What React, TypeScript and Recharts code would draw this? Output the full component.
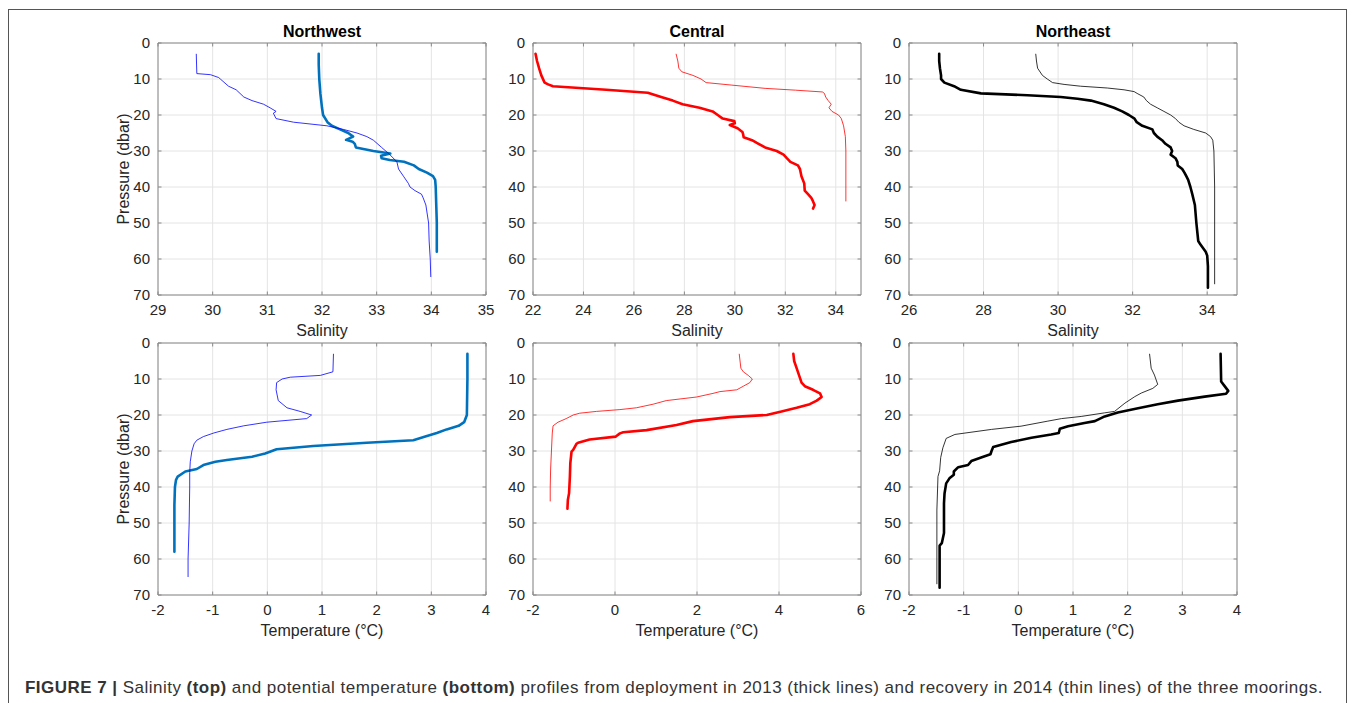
import React from 'react';
import { LineChart, Line, XAxis, YAxis, CartesianGrid, ReferenceArea } from 'recharts';

// ---------- Data (pressure in dbar, salinity, potential temperature °C) ----------
const PRESSURE_TICKS = [0, 10, 20, 30, 40, 50, 60, 70];

// Northwest salinity
const NW_SAL_2013_P = [3, 6, 10, 14, 18, 20, 22, 23, 24, 25, 26, 26.9, 27.4, 28, 29, 30, 30.7, 31.3, 32, 32.5, 33, 34, 35, 36, 37, 38, 40, 45, 50, 58];
const NW_SAL_2013 = [31.94, 31.94, 31.95, 31.97, 32.0, 32.02, 32.1, 32.18, 32.33, 32.48, 32.57, 32.44, 32.56, 32.6, 32.62, 32.94, 33.25, 33.08, 33.09, 33.24, 33.5, 33.68, 33.77, 33.92, 34.03, 34.07, 34.08, 34.09, 34.1, 34.1];
const NW_SAL_2014_P = [3, 8.5, 8.8, 9.6, 10, 12, 13, 14, 15, 16, 17, 18, 19, 19.5, 21, 22, 23, 24, 25, 26, 27, 29, 31, 33, 35, 37, 39, 40, 41, 42, 43, 45, 50, 55, 60, 65];
const NW_SAL_2014 = [29.7, 29.71, 29.96, 30.11, 30.14, 30.29, 30.43, 30.5, 30.57, 30.72, 30.93, 31.05, 31.16, 31.11, 31.16, 31.48, 32.09, 32.39, 32.64, 32.82, 32.94, 33.09, 33.24, 33.37, 33.4, 33.49, 33.58, 33.61, 33.7, 33.82, 33.85, 33.9, 33.95, 33.96, 33.98, 33.99];
const NW_SAL_TICKS = [29, 30, 31, 32, 33, 34, 35];

// Central salinity
const CE_SAL_2013_P = [3, 5, 7, 9, 11, 11.5, 12, 13, 13.8, 15, 16, 17, 18, 19, 20, 21, 21.7, 22.3, 22.8, 23.7, 24.7, 25.4, 26.2, 27, 28, 29, 30, 31, 32, 33, 34, 35, 37, 39, 41, 42, 43, 44, 45, 46];
const CE_SAL_2013 = [22.1, 22.16, 22.24, 22.33, 22.46, 22.6, 22.79, 24.9, 26.55, 27.08, 27.54, 27.93, 28.6, 29.12, 29.32, 29.52, 29.98, 30.0, 29.8, 30.11, 30.3, 30.33, 30.35, 30.68, 30.94, 31.2, 31.66, 31.93, 32.06, 32.2, 32.5, 32.58, 32.64, 32.75, 32.77, 32.9, 33.03, 33.1, 33.16, 33.1];
const CE_SAL_2014_P = [3, 5, 7, 8, 9, 10, 11, 11.7, 12.6, 13.1, 13.6, 14, 15, 16, 17, 18, 19, 20, 21, 23, 26, 30, 44];
const CE_SAL_2014 = [27.67, 27.74, 27.78, 27.9, 28.34, 28.66, 28.86, 29.88, 31.2, 32.4, 33.47, 33.55, 33.6, 33.7, 33.82, 33.73, 33.85, 34.11, 34.22, 34.31, 34.38, 34.4, 34.4];
const CE_SAL_TICKS = [22, 24, 26, 28, 30, 32, 34];

// Northeast salinity
const NE_SAL_2013_P = [3, 5, 7, 9, 10, 11, 12, 13, 14, 14.5, 15, 15.5, 16, 17, 18, 19, 20, 21, 22, 23, 24, 25, 26, 27, 28, 29, 30, 31, 32, 33, 34, 35, 36, 37, 38, 40, 42, 45, 50, 55, 56, 58, 59, 62, 68];
const NE_SAL_2013 = [26.81, 26.81, 26.83, 26.86, 26.86, 26.95, 27.21, 27.39, 27.93, 29.18, 30.07, 30.52, 30.88, 31.23, 31.5, 31.72, 31.9, 32.05, 32.11, 32.26, 32.53, 32.57, 32.66, 32.79, 32.88, 33.02, 33.06, 33.02, 33.15, 33.2, 33.21, 33.33, 33.39, 33.44, 33.49, 33.55, 33.6, 33.67, 33.71, 33.76, 33.82, 33.96, 34.0, 34.02, 34.02];
const NE_SAL_2014_P = [3, 5, 7, 9, 10, 11, 11.5, 12, 12.5, 13, 13.5, 14, 15, 16, 17, 18, 19, 20, 21, 22, 23, 24, 25, 26, 27, 30, 40, 50, 67];
const NE_SAL_2014 = [29.4, 29.42, 29.45, 29.58, 29.71, 29.85, 30.16, 30.6, 31.32, 31.77, 32.04, 32.12, 32.3, 32.37, 32.48, 32.66, 32.84, 33.02, 33.15, 33.24, 33.38, 33.64, 33.96, 34.09, 34.15, 34.18, 34.2, 34.2, 34.2];
const NE_SAL_TICKS = [26, 28, 30, 32, 34];

// Northwest temperature
const NW_TEM_2013_P = [3, 10, 20, 22, 23, 24, 25, 26, 27, 27.7, 28.6, 29.5, 30.7, 31.6, 32.5, 33, 33.9, 35, 35.7, 37.1, 38, 40, 45, 58];
const NW_TEM_2013 = [3.66, 3.66, 3.65, 3.6, 3.5, 3.28, 3.1, 2.89, 2.67, 1.82, 0.84, 0.17, -0.04, -0.28, -0.74, -0.95, -1.17, -1.29, -1.5, -1.64, -1.67, -1.69, -1.7, -1.7];
const NW_TEM_2014_P = [3, 8, 9, 9.5, 10, 11, 13, 16, 18, 19, 20, 21, 22, 23, 24, 25, 26, 27, 28, 30, 33, 36, 40, 50, 60, 65];
const NW_TEM_2014 = [1.21, 1.2, 0.97, 0.42, 0.27, 0.17, 0.16, 0.2, 0.36, 0.6, 0.81, 0.72, -0.01, -0.43, -0.74, -0.98, -1.17, -1.29, -1.34, -1.38, -1.41, -1.42, -1.42, -1.43, -1.45, -1.45];
const NW_TEM_TICKS = [-2, -1, 0, 1, 2, 3, 4];

// Central temperature
const CE_TEM_2013_P = [3, 5, 7, 9, 11, 12, 13, 14, 15, 16, 17, 18, 19, 20, 20.6, 21.7, 22.8, 24.2, 24.8, 25.1, 26, 26.8, 27.7, 28, 29.7, 30.2, 33.4, 37, 41.7, 43.6, 46];
const CE_TEM_2013 = [4.35, 4.37, 4.43, 4.49, 4.55, 4.63, 4.83, 5.0, 5.04, 4.92, 4.75, 4.43, 4.06, 3.7, 2.8, 1.9, 1.5, 0.77, 0.2, 0.12, 0.02, -0.62, -0.9, -0.94, -1.02, -1.06, -1.09, -1.1, -1.12, -1.15, -1.16];
const CE_TEM_2014_P = [3, 7, 8, 9, 10, 11, 12, 13, 13.5, 14, 15, 16, 17, 18, 18.5, 19, 19.5, 20, 21, 22, 23, 25, 30, 35, 40, 44];
const CE_TEM_2014 = [3.03, 3.07, 3.13, 3.25, 3.35, 3.29, 3.13, 2.97, 2.56, 2.39, 1.99, 1.25, 0.93, 0.52, 0.12, -0.45, -0.86, -1.02, -1.19, -1.39, -1.51, -1.53, -1.55, -1.57, -1.58, -1.58];
const CE_TEM_TICKS = [-2, 0, 2, 4, 6];

// Northeast temperature
const NE_TEM_2013_P = [3, 10.7, 11.7, 13.3, 14.1, 14.9, 16, 17, 18.1, 19.3, 20.4, 21.7, 22.2, 23.1, 23.8, 25, 25.4, 26.3, 27.5, 28.9, 30, 30.9, 31.8, 32.8, 33.9, 34.5, 35.7, 36.6, 37.6, 39, 41.8, 44.5, 49.2, 52.8, 55.6, 56.3, 68];
const NE_TEM_2013 = [3.7, 3.71, 3.76, 3.84, 3.8, 3.41, 2.92, 2.55, 2.19, 1.82, 1.58, 1.4, 1.21, 0.91, 0.76, 0.74, 0.6, 0.24, -0.13, -0.46, -0.49, -0.51, -0.68, -0.86, -0.92, -1.1, -1.18, -1.18, -1.26, -1.32, -1.35, -1.36, -1.36, -1.36, -1.4, -1.44, -1.44];
const NE_TEM_2014_P = [3, 7, 8.9, 11.5, 12.6, 13.9, 14.9, 16.7, 19, 19.4, 20.4, 21, 21.7, 23.1, 24, 25.4, 26.5, 29.1, 31.8, 35.5, 37.1, 46.4, 67];
const NE_TEM_2014 = [2.4, 2.43, 2.49, 2.55, 2.46, 2.25, 2.13, 1.95, 1.76, 1.58, 1.15, 0.79, 0.54, 0.05, -0.49, -1.16, -1.32, -1.38, -1.42, -1.44, -1.47, -1.49, -1.49];
const NE_TEM_TICKS = [-2, -1, 0, 1, 2, 3, 4];

// ---------- Styling / layout ----------
const FONT = 'Arial, "Liberation Sans", Helvetica, sans-serif';
const TEXT = '#262626';
const BOX = '#8a8a8a';
const GRID = '#e4e4e4';
const PW = 328;
const PH = 252;
const ML = 60;
const MT = 40;
const MR = 10;
const XH = 50;
const TM = 9;
const TL = 3.5;
const TICK_FS = 15;
const LABEL_FS = 16;

const zip = (p: number[], v: number[]) => p.map((pp, i) => ({ p: pp, v: v[i] }));

type Panel = {
  left: number;
  top: number;
  title?: string;
  xLabel: string;
  yLabel?: string;
  domain: [number, number];
  ticks: number[];
  color: string;
  thick: { p: number; v: number }[];
  thin: { p: number; v: number }[];
};

const PANELS: Panel[] = [
  { left: 158, top: 43, title: 'Northwest', xLabel: 'Salinity', yLabel: 'Pressure (dbar)', domain: [29, 35], ticks: NW_SAL_TICKS, color: '#0072BD', thick: zip(NW_SAL_2013_P, NW_SAL_2013), thin: zip(NW_SAL_2014_P, NW_SAL_2014) },
  { left: 533, top: 43, title: 'Central', xLabel: 'Salinity', domain: [22, 35], ticks: CE_SAL_TICKS, color: '#FF0000', thick: zip(CE_SAL_2013_P, CE_SAL_2013), thin: zip(CE_SAL_2014_P, CE_SAL_2014) },
  { left: 909, top: 43, title: 'Northeast', xLabel: 'Salinity', domain: [26, 34.8], ticks: NE_SAL_TICKS, color: '#000000', thick: zip(NE_SAL_2013_P, NE_SAL_2013), thin: zip(NE_SAL_2014_P, NE_SAL_2014) },
  { left: 158, top: 343, xLabel: 'Temperature (°C)', yLabel: 'Pressure (dbar)', domain: [-2, 4], ticks: NW_TEM_TICKS, color: '#0072BD', thick: zip(NW_TEM_2013_P, NW_TEM_2013), thin: zip(NW_TEM_2014_P, NW_TEM_2014) },
  { left: 533, top: 343, xLabel: 'Temperature (°C)', domain: [-2, 6], ticks: CE_TEM_TICKS, color: '#FF0000', thick: zip(CE_TEM_2013_P, CE_TEM_2013), thin: zip(CE_TEM_2014_P, CE_TEM_2014) },
  { left: 909, top: 343, xLabel: 'Temperature (°C)', domain: [-2, 4], ticks: NE_TEM_TICKS, color: '#000000', thick: zip(NE_TEM_2013_P, NE_TEM_2013), thin: zip(NE_TEM_2014_P, NE_TEM_2014) },
];

const thinColor = (c: string) => (c === '#0072BD' ? '#0000FF' : c);

const XTick = (props: any) => {
  const { x, y, payload } = props;
  const axisY = y - TM;
  return (
    <g>
      <line x1={x} x2={x} y1={axisY} y2={axisY - TL} stroke={BOX} strokeWidth={1} />
      <line x1={x} x2={x} y1={axisY - PH} y2={axisY - PH + TL} stroke={BOX} strokeWidth={1} />
      <text x={x} y={y} dy="0.71em" textAnchor="middle" fill={TEXT} fontSize={TICK_FS} fontFamily={FONT}>
        {payload.value}
      </text>
    </g>
  );
};

const YTick = (props: any) => {
  const { x, y, payload } = props;
  const axisX = x + 8;
  return (
    <g>
      <line x1={axisX} x2={axisX + TL} y1={y} y2={y} stroke={BOX} strokeWidth={1} />
      <line x1={axisX + PW} x2={axisX + PW - TL} y1={y} y2={y} stroke={BOX} strokeWidth={1} />
      <text x={x} y={y} dy="0.355em" textAnchor="end" fill={TEXT} fontSize={TICK_FS} fontFamily={FONT}>
        {payload.value}
      </text>
    </g>
  );
};

const PanelChart = ({ panel }: { panel: Panel }) => {
  const w = ML + PW + MR;
  const h = MT + PH + XH;
  return (
    <div style={{ position: 'absolute', left: panel.left - ML, top: panel.top - MT, width: w, height: h }}>
      <LineChart width={w} height={h} margin={{ top: MT, right: MR, bottom: 0, left: 0 }}>
        <CartesianGrid stroke={GRID} strokeWidth={1} />
        <XAxis
          type="number"
          dataKey="v"
          domain={panel.domain}
          ticks={panel.ticks}
          interval={0}
          allowDataOverflow
          height={XH}
          tickSize={0}
          tickMargin={TM}
          axisLine={false}
          tickLine={false}
          tick={XTick}
          label={{ value: panel.xLabel, position: 'insideBottom', offset: 9, fill: TEXT, fontSize: LABEL_FS, fontFamily: FONT }}
        />
        <YAxis
          type="number"
          dataKey="p"
          reversed
          domain={[0, 70]}
          ticks={PRESSURE_TICKS}
          interval={0}
          allowDataOverflow
          width={ML}
          tickSize={0}
          tickMargin={8}
          axisLine={false}
          tickLine={false}
          tick={YTick}
          label={
            panel.yLabel
              ? { value: panel.yLabel, angle: -90, position: 'insideLeft', offset: 25, fill: TEXT, fontSize: LABEL_FS, fontFamily: FONT, style: { textAnchor: 'middle' } }
              : undefined
          }
        />
        <ReferenceArea
          x1={panel.domain[0]}
          x2={panel.domain[1]}
          y1={0}
          y2={70}
          fill="none"
          fillOpacity={0}
          stroke={BOX}
          strokeWidth={1}
          label={
            panel.title
              ? { value: panel.title, position: 'top', offset: 6, fill: '#000', fontSize: LABEL_FS, fontWeight: 'bold', fontFamily: FONT }
              : undefined
          }
        />
        <Line data={panel.thick} dataKey="p" type="linear" stroke={panel.color} strokeWidth={2.6} dot={false} activeDot={false} isAnimationActive={false} strokeLinejoin="round" strokeLinecap="round" />
        <Line data={panel.thin} dataKey="p" type="linear" stroke={thinColor(panel.color)} strokeWidth={0.8} dot={false} activeDot={false} isAnimationActive={false} strokeLinejoin="round" />
      </LineChart>
    </div>
  );
};

export default function App() {
  return (
    <div style={{ position: 'absolute', left: 0, top: 0, width: 1358, height: 703, background: '#fff', overflow: 'hidden', fontFamily: FONT }}>
      <div style={{ position: 'absolute', left: 8, top: 9, width: 1339, height: 720, border: '1px solid #555', boxSizing: 'border-box' }} />
      {PANELS.map((p, i) => (
        <PanelChart key={i} panel={p} />
      ))}
      <div style={{ position: 'absolute', left: 25, top: 678, lineHeight: '20px', fontSize: 17, letterSpacing: '0.47px', color: '#333', whiteSpace: 'nowrap', fontFamily: FONT }}>
        <b>FIGURE 7 |</b> Salinity <b>(top)</b> and potential temperature <b>(bottom)</b> profiles from deployment in 2013 (thick lines) and recovery in 2014 (thin lines) of the three moorings.
      </div>
    </div>
  );
}
